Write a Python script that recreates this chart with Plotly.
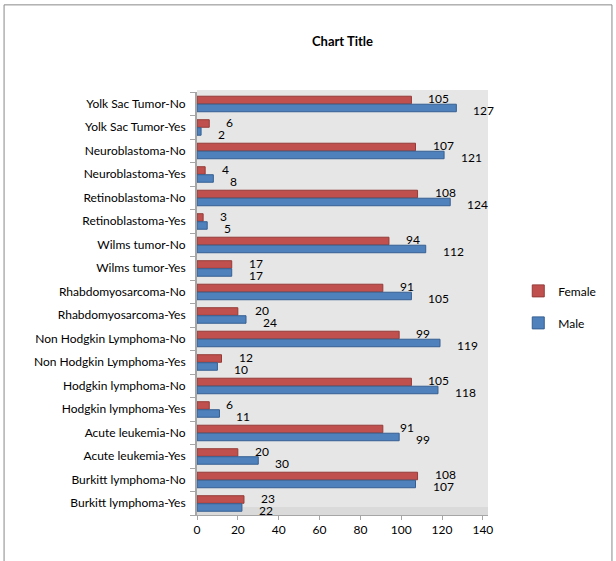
import plotly.graph_objects as go

# Categories listed bottom to top
categories = [
    "Burkitt lymphoma-Yes", "Burkitt lymphoma-No",
    "Acute leukemia-Yes", "Acute leukemia-No",
    "Hodgkin lymphoma-Yes", "Hodgkin lymphoma-No",
    "Non Hodgkin Lymphoma-Yes", "Non Hodgkin Lymphoma-No",
    "Rhabdomyosarcoma-Yes", "Rhabdomyosarcoma-No",
    "Wilms tumor-Yes", "Wilms tumor-No",
    "Retinoblastoma-Yes", "Retinoblastoma-No",
    "Neuroblastoma-Yes", "Neuroblastoma-No",
    "Yolk Sac Tumor-Yes", "Yolk Sac Tumor-No",
]
male = [22, 107, 30, 99, 11, 118, 10, 119, 24, 105, 17, 112, 5, 124, 8, 121, 2, 127]
female = [23, 108, 20, 91, 6, 105, 12, 99, 20, 91, 17, 94, 3, 108, 4, 107, 6, 105]
x_ticks = [0, 20, 40, 60, 80, 100, 120, 140]

FONT = "Lato, 'Open Sans', sans-serif"
RED = "#C0504D"
RED_EDGE = "#943B38"
BLUE = "#4F81BD"
BLUE_EDGE = "#365F91"

fig = go.Figure()
fig.add_trace(go.Bar(
    y=categories, x=female, name="Female", orientation="h",
    marker=dict(color=RED, line=dict(color=RED_EDGE, width=1)),
    offset=0.0, width=0.32, legendgroup="f", legendrank=1,
))
fig.add_trace(go.Bar(
    y=categories, x=male, name="Male", orientation="h",
    marker=dict(color=BLUE, line=dict(color=BLUE_EDGE, width=1)),
    offset=-0.34, width=0.32, legendgroup="m", legendrank=2,
))

annotations = []
for c, v in zip(categories, female):
    annotations.append(dict(x=v, y=c, xref="x", yref="y", text=str(v), showarrow=False,
                            xanchor="left", yanchor="middle", xshift=15, yshift=5,
                            font=dict(family=FONT, size=12, color="black")))
for c, v in zip(categories, male):
    annotations.append(dict(x=v, y=c, xref="x", yref="y", text=str(v), showarrow=False,
                            xanchor="left", yanchor="middle", xshift=15, yshift=-7,
                            font=dict(family=FONT, size=12, color="black")))

fig.update_layout(
    width=616, height=561,
    margin=dict(l=197, r=128, t=92, b=46),
    paper_bgcolor="white", plot_bgcolor="rgba(0,0,0,0)",
    barmode="overlay",
    title=dict(text="<b>Chart Title</b>", x=0.5, xref="paper", xanchor="center",
               y=1 - 41 / 561, yanchor="middle",
               font=dict(family=FONT, size=13, color="black")),
    font=dict(family=FONT, size=12, color="black"),
    xaxis=dict(range=[0, 142.5], tickvals=x_ticks, showgrid=False, zeroline=False,
               showline=True, linecolor="#A6A6A6", linewidth=1,
               ticks="outside", ticklen=4, tickcolor="#A6A6A6",
               tickfont=dict(family=FONT, size=12)),
    yaxis=dict(type="category", categoryorder="array", categoryarray=categories,
               range=[-0.5, len(categories) - 0.5],
               showgrid=False, zeroline=False, showline=True, linecolor="#A6A6A6", linewidth=2,
               ticks="outside", ticklen=5, tickcolor="#A6A6A6", tickson="boundaries",
               ticklabelstandoff=7,
               tickfont=dict(family=FONT, size=12)),
    legend=dict(x=1.104, xanchor="left", y=0.492, yanchor="middle",
                traceorder="grouped", tracegroupgap=13,
                font=dict(family=FONT, size=12), bgcolor="rgba(0,0,0,0)"),
    annotations=annotations,
    shapes=[
        # back wall
        dict(type="rect", xref="x domain", yref="y domain", x0=0, x1=1, y0=0.02, y1=1.005,
             fillcolor="#E6E6E6", line=dict(width=0), layer="below"),
        # floor
        dict(type="rect", xref="x domain", yref="y domain", x0=0, x1=1, y0=0.0, y1=0.02,
             fillcolor="#DADADA", line=dict(width=0), layer="below"),
        # outer chart border
        dict(type="rect", xref="paper", yref="paper", x0=-0.663, x1=1.426, y0=-0.2, y1=1.206,
             line=dict(color="#888888", width=1), fillcolor="rgba(0,0,0,0)", layer="below"),
    ],
)

fig.write_html("out.html", config={"displayModeBar": False},
               post_script="document.body.style.margin='0';")
